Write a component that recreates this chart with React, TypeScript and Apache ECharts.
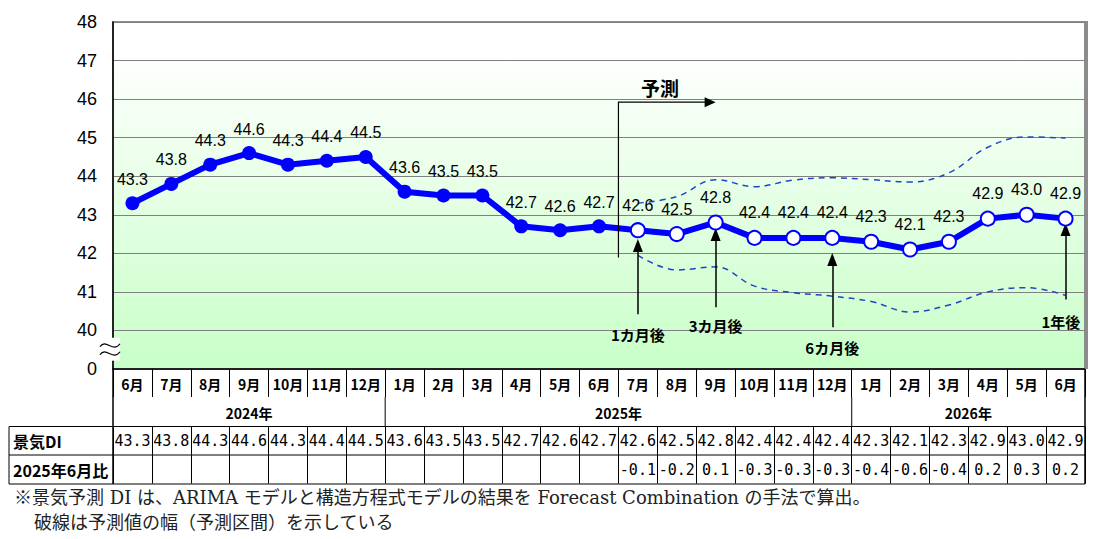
import React, { useEffect, useRef } from "react";
import * as echarts from "echarts";

const months = ["6月", "7月", "8月", "9月", "10月", "11月", "12月", "1月", "2月", "3月", "4月", "5月", "6月", "7月", "8月", "9月", "10月", "11月", "12月", "1月", "2月", "3月", "4月", "5月", "6月"];
const yearLabels = ["2024年", "2025年", "2026年"];
const yearSpans = [7, 12, 6];
const actualDI = [43.3, 43.8, 44.3, 44.6, 44.3, 44.4, 44.5, 43.6, 43.5, 43.5, 42.7, 42.6, 42.7];
const forecastDI = [42.6, 42.5, 42.8, 42.4, 42.4, 42.4, 42.3, 42.1, 42.3, 42.9, 43.0, 42.9];
const diffJune = [-0.1, -0.2, 0.1, -0.3, -0.3, -0.3, -0.4, -0.6, -0.4, 0.2, 0.3, 0.2];
const upperBand = [43.3, 43.47, 43.91, 43.73, 43.9, 43.96, 43.91, 43.85, 44.09, 44.75, 45.02, 44.99];
const lowerBand = [41.95, 41.57, 41.65, 41.15, 40.98, 40.89, 40.75, 40.48, 40.66, 41.0, 41.11, 40.91];

const arrowLabels = ["1カ月後", "3カ月後", "6カ月後", "1年後"];
const arrowIndex = [13, 15, 18, 24];
const arrowFrom = [40.42, 40.6, 40.08, 40.8];
const arrowTo = [42.2, 42.49, 41.84, 42.62];
const arrowTextAt = [[13, 39.9], [15, 40.13], [18, 39.56], [23.88, 40.24]];

const rowLabels = ["景気DI", "2025年6月比"];
const footnotes = [
  "※景気予測 DI は、ARIMA モデルと構造方程式モデルの結果を Forecast Combination の手法で算出。",
  "破線は予測値の幅（予測区間）を示している",
];

const Y_MIN = 39;
const Y_MAX = 48;

const JP = "'Noto Sans CJK JP', sans-serif";
const MONO = "'DejaVu Sans Mono', monospace";
const SANS = "'Liberation Sans', Arial, sans-serif";
const SERIF = "'DejaVu Serif', 'Noto Sans CJK JP', serif";

export default function App() {
  const ref = useRef<HTMLDivElement>(null);

  useEffect(() => {
    document.body.style.margin = "0";
    const chart = echarts.init(ref.current!, null, { renderer: "svg" });
    const nA = actualDI.length;
    const allDI = [...actualDI, ...forecastDI];
    const n = months.length;
    const idx = months.map((_, i) => String(i));
    const diffAll: string[] = [...Array(nA).fill(""), ...diffJune.map((d) => d.toFixed(1))];
    const pad = (arr: number[]) => [...Array(nA).fill(null), ...arr];

    const mainData = allDI.map((v, i) =>
      i < nA
        ? { value: v }
        : { value: v, itemStyle: { color: "#ffffff", borderColor: "#0000ff", borderWidth: 2 } }
    );

    const tableAxis = (offset: number, labels: string[]) => ({
      type: "category",
      data: idx,
      position: "bottom",
      offset,
      boundaryGap: true,
      axisLine: { show: false },
      axisTick: { show: true, length: 28.5, interval: 0, lineStyle: { color: "#000", width: 1 } },
      axisLabel: {
        interval: 0,
        margin: 7,
        fontFamily: MONO,
        fontSize: 15,
        color: "#000",
        formatter: (_v: string, i: number) => labels[i],
      },
      splitLine: { show: false },
    });

    const option: any = {
      animation: false,
      grid: {
        left: 113,
        right: 15,
        top: 22,
        bottom: 170,
        show: true,
        borderColor: "#8c8c8c",
        borderWidth: 2,
        backgroundColor: {
          type: "linear",
          x: 0,
          y: 0,
          x2: 0,
          y2: 1,
          colorStops: [
            { offset: 0, color: "#ffffff" },
            { offset: 0.08, color: "#ffffff" },
            { offset: 1, color: "#c8ffc8" },
          ],
        },
      },
      xAxis: [
        {
          type: "category",
          data: months,
          boundaryGap: true,
          axisLine: { show: true, lineStyle: { color: "#000", width: 1.5 } },
          axisTick: { show: true, length: 28, interval: 0, lineStyle: { color: "#000", width: 1 } },
          axisLabel: {
            interval: 0,
            margin: 8,
            fontFamily: JP,
            fontWeight: "bold",
            fontSize: 14,
            color: "#000",
          },
          splitLine: { show: false },
          z: 5,
        },
        tableAxis(57.5, allDI.map((v) => v.toFixed(1))),
        tableAxis(86, diffAll),
      ],
      yAxis: {
        type: "value",
        min: Y_MIN,
        max: Y_MAX,
        interval: 1,
        axisLine: { show: true, lineStyle: { color: "#000", width: 1.5 } },
        axisTick: { show: false },
        axisLabel: {
          margin: 16,
          fontSize: 18,
          fontFamily: SANS,
          color: "#000",
          formatter: (v: number) => (v === Y_MIN ? "0" : String(v)),
        },
        splitLine: { show: true, lineStyle: { color: "#808080", width: 1 } },
      },
      series: [
        {
          type: "line",
          data: pad(upperBand),
          smooth: 0.4,
          symbol: "none",
          lineStyle: { color: "#2244cc", width: 1.5, type: [6, 5] },
          z: 2,
          silent: true,
        },
        {
          type: "line",
          data: pad(lowerBand),
          smooth: 0.4,
          symbol: "none",
          lineStyle: { color: "#2244cc", width: 1.5, type: [6, 5] },
          z: 2,
          silent: true,
        },
        {
          type: "line",
          data: mainData,
          symbol: "circle",
          symbolSize: 14,
          itemStyle: { color: "#0000ff" },
          lineStyle: { color: "#0000ff", width: 6 },
          z: 5,
          label: {
            show: true,
            position: "top",
            distance: 9,
            fontSize: 16,
            fontFamily: SANS,
            color: "#000",
            formatter: (p: any) => Number(p.value).toFixed(1),
          },
          markLine: {
            silent: true,
            symbol: ["none", "triangle"],
            symbolSize: [10, 13],
            label: { show: false },
            lineStyle: { color: "#000", width: 1.5, type: "solid" },
            data: arrowIndex.map((xi, k) => [
              { coord: [xi, arrowFrom[k]] },
              { coord: [xi, arrowTo[k]] },
            ]),
          },
        },
      ],
    };
    chart.setOption(option);

    const px = (i: number, v: number): number[] => {
      const i0 = Math.floor(i);
      const f = i - i0;
      const a = chart.convertToPixel({ xAxisIndex: 0, yAxisIndex: 0 }, [i0, v]) as number[];
      if (f === 0) return a;
      const b = chart.convertToPixel({ xAxisIndex: 0, yAxisIndex: 0 }, [i0 + 1, v]) as number[];
      return [a[0] + (b[0] - a[0]) * f, a[1]];
    };
    const colW = px(1, Y_MIN)[0] - px(0, Y_MIN)[0];
    const edge = (k: number) => px(0, Y_MIN)[0] - colW / 2 + k * colW;
    const xL = edge(0);
    const xR = edge(n);
    const yTop = px(0, Y_MAX)[1];
    const r0 = px(0, Y_MIN)[1];
    const r1 = r0 + 28;
    const r2 = r0 + 57.5;
    const r3 = r0 + 86;
    const r4 = r0 + 115;
    const tableLeft = 9;

    const g: any[] = [];
    const line = (x1: number, y1: number, x2: number, y2: number, w = 1, color = "#000") =>
      g.push({ type: "line", shape: { x1, y1, x2, y2 }, style: { stroke: color, lineWidth: w }, z: 50, silent: true });

    // right border shade
    line(xR + 1.5, yTop - 1, xR + 1.5, r0, 3, "#8c8c8c");

    // table frame
    [r2, r3, r4].forEach((y) => line(tableLeft, y, xR, y));
    line(tableLeft, r2, tableLeft, r4);
    line(xL, r0, xL, r4, 1.5);
    line(xR, r0, xR, r4, 1.5);
    let acc = 0;
    yearSpans.forEach((s, k) => {
      const start = acc;
      acc += s;
      if (k < yearSpans.length - 1) line(edge(acc), r1, edge(acc), r2);
      g.push({
        type: "text",
        x: (edge(start) + edge(acc)) / 2,
        y: (r1 + r2) / 2 + 1,
        style: {
          text: yearLabels[k],
          fontFamily: JP,
          fontWeight: "bold",
          fontSize: 14,
          fill: "#000",
          align: "center",
          verticalAlign: "middle",
        },
        z: 50,
      });
    });
    rowLabels.forEach((t, k) => {
      g.push({
        type: "text",
        x: 13,
        y: k === 0 ? (r2 + r3) / 2 : (r3 + r4) / 2,
        style: { text: t, fontFamily: JP, fontWeight: "bold", fontSize: 16, fill: "#000", verticalAlign: "middle" },
        z: 50,
      });
    });
    footnotes.forEach((t, k) => {
      g.push({
        type: "text",
        x: k === 0 ? 14 : 34,
        y: k === 0 ? 497 : 522,
        style: { text: t, fontFamily: SERIF, fontSize: 18, fill: "#222", verticalAlign: "middle" },
        z: 50,
      });
    });

    // axis break
    const bx = xL;
    const by = px(0, 39.5)[1];
    g.push({ type: "rect", shape: { x: bx - 2, y: by - 12, width: 9, height: 23 }, style: { fill: "#ffffff" }, z: 60 });
    [-4, 4].forEach((dy) =>
      g.push({
        type: "bezierCurve",
        shape: { x1: bx - 13, y1: by + dy + 1, cpx1: bx - 7, cpy1: by + dy - 8, cpx2: bx, cpy2: by + dy + 8, x2: bx + 7, y2: by + dy - 2 },
        style: { stroke: "#000", lineWidth: 1.2, fill: "none" },
        z: 61,
      })
    );

    // 予測 arrow
    const p0 = px(12.5, 41.89);
    const p1 = px(12.5, 45.92);
    const p2 = px(15, 45.92);
    g.push({
      type: "polyline",
      shape: { points: [p0, p1, [p2[0] - 10, p2[1]]] },
      style: { stroke: "#000", lineWidth: 1.2, fill: "none" },
      z: 50,
    });
    g.push({
      type: "polygon",
      shape: { points: [[p2[0] - 11, p2[1] - 5], [p2[0], p2[1]], [p2[0] - 11, p2[1] + 5]] },
      style: { fill: "#000" },
      z: 50,
    });
    const pt = px(13.57, 46.3);
    g.push({
      type: "text",
      x: pt[0],
      y: pt[1],
      style: { text: "予測", fontFamily: JP, fontWeight: "bold", fontSize: 19, fill: "#000", align: "center", verticalAlign: "middle" },
      z: 50,
    });

    arrowLabels.forEach((t, k) => {
      const p = px(arrowTextAt[k][0], arrowTextAt[k][1]);
      g.push({
        type: "text",
        x: p[0],
        y: p[1],
        style: { text: t, fontFamily: JP, fontWeight: "bold", fontSize: 15, fill: "#000", align: "center", verticalAlign: "middle" },
        z: 50,
      });
    });

    chart.setOption({ graphic: g });

    return () => chart.dispose();
  }, []);

  return <div ref={ref} style={{ width: 1100, height: 539 }} />;
}
